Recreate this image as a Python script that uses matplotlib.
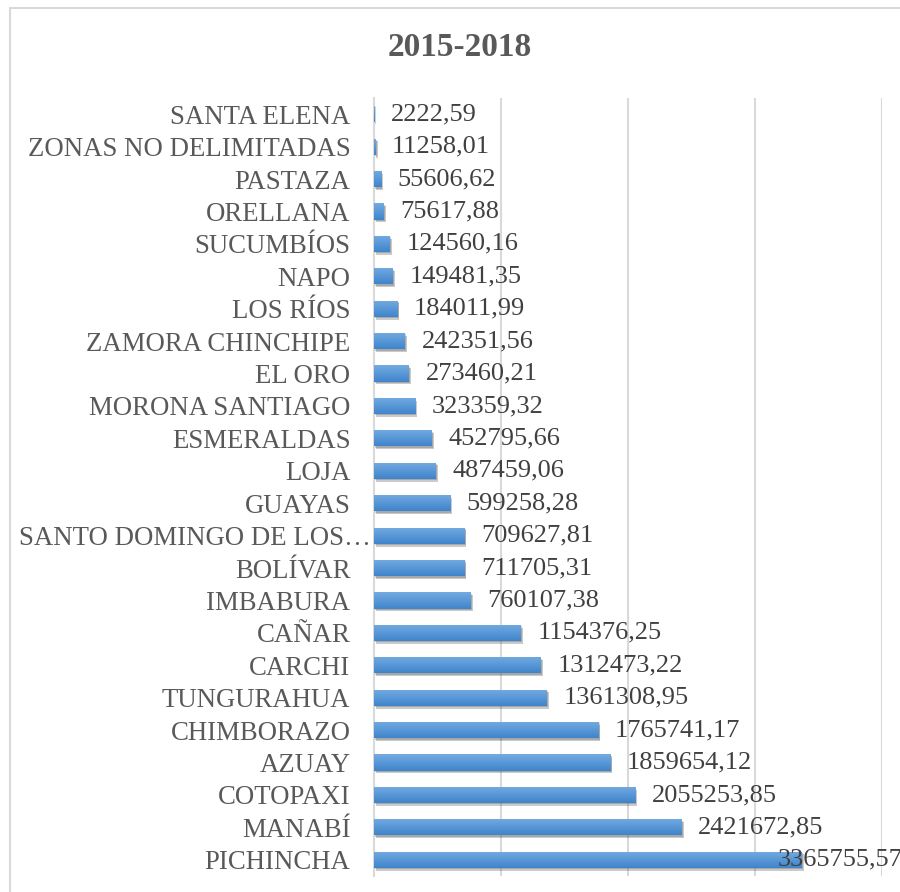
import matplotlib.pyplot as plt
import matplotlib.patheffects as pe
import matplotlib.transforms as mtransforms
from matplotlib.colors import LinearSegmentedColormap
from matplotlib.patches import Rectangle
import numpy as np

# provinces, top to bottom as shown
provincias = ["SANTA ELENA", "ZONAS NO DELIMITADAS", "PASTAZA", "ORELLANA", "SUCUMBÍOS",
              "NAPO", "LOS RÍOS", "ZAMORA CHINCHIPE", "EL ORO", "MORONA SANTIAGO",
              "ESMERALDAS", "LOJA", "GUAYAS", "SANTO DOMINGO DE LOS…", "BOLÍVAR",
              "IMBABURA", "CAÑAR", "CARCHI", "TUNGURAHUA", "CHIMBORAZO",
              "AZUAY", "COTOPAXI", "MANABÍ", "PICHINCHA"]
valores = [2222.59, 11258.01, 55606.62, 75617.88, 124560.16,
           149481.35, 184011.99, 242351.56, 273460.21, 323359.32,
           452795.66, 487459.06, 599258.28, 709627.81, 711705.31,
           760107.38, 1154376.25, 1312473.22, 1361308.95, 1765741.17,
           1859654.12, 2055253.85, 2421672.85, 3365755.57]
titulo = "2015-2018"

plt.rcParams['font.family'] = ['Liberation Serif', 'DejaVu Serif']

fig = plt.figure(figsize=(9, 8.92), dpi=100)
ax = fig.add_axes([374/900, 16/892, (882-374)/900, (876-98)/892])

y = np.arange(len(provincias))
h = 0.5
bars = ax.barh(y, valores, height=h, color='#5A9BD8', zorder=2)

# excel-ish gradient + soft shadow
cmap = LinearSegmentedColormap.from_list('g', ['#3F85CC', '#74ABE1'])
grad = np.linspace(0, 1, 50).reshape(-1, 1)
for b, v, yi in zip(bars, valores, y):
    b.set_path_effects([pe.SimplePatchShadow(offset=(1.5, -2), shadow_rgbFace='#444444', alpha=0.28),
                        pe.SimplePatchShadow(offset=(1, -1), shadow_rgbFace='#444444', alpha=0.25),
                        pe.Normal()])
    im = ax.imshow(grad, cmap=cmap, extent=[0, v, yi + h/2, yi - h/2], aspect='auto',
                   origin='lower', zorder=3)
    im.set_clip_path(b)

ax.set_xlim(0, 4000000)
ax.set_ylim(len(provincias) - 0.5, -0.5)
ax.set_yticks(y)
ax.set_yticklabels(provincias, fontsize=19.3, color='#595959')
ax.tick_params(axis='y', length=0, pad=17)
ax.set_xticks([1000000, 2000000, 3000000, 4000000])
ax.tick_params(axis='x', length=0, labelbottom=False)
ax.grid(axis='x', color='#D9D9D9', linewidth=1.5, zorder=0)
for s in ['top', 'right', 'bottom']:
    ax.spines[s].set_visible(False)
ax.spines['left'].set_color('#D9D9D9')
ax.spines['left'].set_linewidth(1.5)

# truncated label: the ellipsis runs past the label edge, as in excel
for lab in ax.get_yticklabels():
    if lab.get_text().endswith('…'):
        lab.set_transform(lab.get_transform() + mtransforms.ScaledTranslation(20/100, 0, fig.dpi_scale_trans))

for v, yi in zip(valores, y):
    txt = f"{v:.2f}".replace('.', ',')
    dx = 12 if v < 3000000 else -17
    ax.annotate(txt, (v, yi), xytext=(dx, 0), textcoords='offset points',
                ha='left', va='center', fontsize=19, color='#404040',
                annotation_clip=False, zorder=5)

fig.text(0.511, 1 - 47/892, titulo, ha='center', va='center', fontsize=24,
         fontweight='bold', color='#595959')

fig.patches.append(Rectangle((10/900, -0.1), 1.5, 1.1 - 8/892, fill=False,
                             edgecolor='#D9D9D9', linewidth=1.5,
                             transform=fig.transFigure, zorder=0))

fig.savefig('out.png', dpi=100)
